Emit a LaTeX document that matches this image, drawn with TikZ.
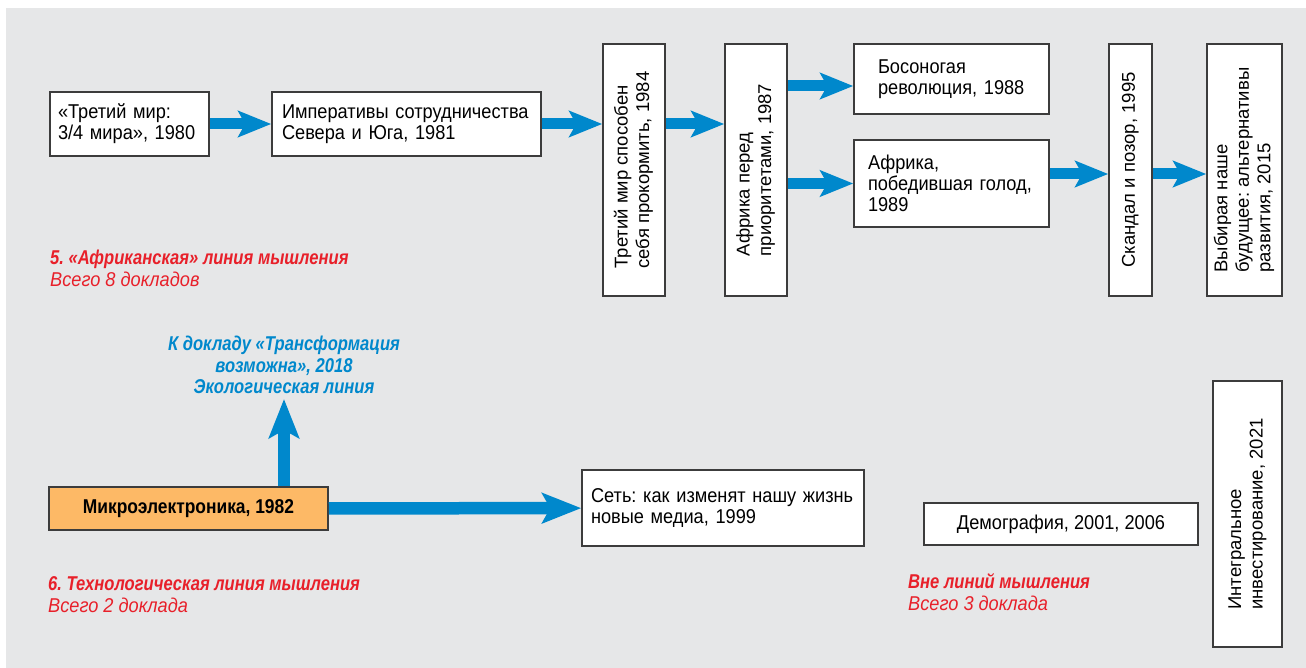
\documentclass[tikz,border=0pt]{standalone}
\usepackage{fontspec}
\usepackage{graphicx}
\setmainfont{Liberation Sans}[FakeStretch=0.91]
\newfontfamily\headfont{Liberation Sans}[FakeStretch=0.83]
\newfontfamily\mfont{Liberation Sans}[FakeStretch=0.87]
\newfontfamily\vertfont{Liberation Sans}
\usetikzlibrary{arrows.meta}
\frenchspacing

\definecolor{bggray}{HTML}{E6E7E8}
\definecolor{arrblue}{HTML}{0088CC}
\definecolor{txtred}{HTML}{E8202A}
\definecolor{boxorange}{HTML}{FDB966}
\definecolor{boxline}{HTML}{3C3C3C}

\newcommand{\boxfont}{\fontsize{20pt}{21pt}\selectfont\frenchspacing}
\newcommand{\vtext}[1]{\rotatebox{90}{\vertfont\fontsize{18.5pt}{21.5pt}\selectfont\begin{tabular}{@{}l@{}}#1\end{tabular}}}

\begin{document}
\begin{tikzpicture}[x=1pt,y=-1pt]
  \tikzstyle{box}=[draw=boxline,line width=1.5pt,fill=white,inner sep=0pt,font=\boxfont,align=left]
  \tikzstyle{vbox}=[box,minimum height=252pt]
  \tikzstyle{fat}=[draw=arrblue,line width=11pt,-{Stealth[length=33pt,width=26pt,inset=7pt]}]
  \tikzstyle{fatter}=[draw=arrblue,line width=12.5pt,-{Stealth[length=39pt,width=30pt,inset=8pt]}]
  \tikzstyle{linehead}=[anchor=base west,inner sep=0pt,text=txtred,font=\boxfont\headfont\bfseries\itshape]
  \tikzstyle{linesub}=[anchor=base west,inner sep=0pt,text=txtred,font=\boxfont\itshape]
  \tikzstyle{ecotext}=[anchor=base,inner sep=0pt,text=arrblue,font=\boxfont\headfont\bfseries\itshape]

  \useasboundingbox (0,0) rectangle (1306,668);
  \fill[bggray] (6,8) rectangle (1306,668);

  % African line
  \node[box,text width=143pt,inner xsep=8pt,minimum height=64pt] (A) at (129.5,124) {«Третий мир:\\3/4~мира», 1980};
  \node[box,text width=249pt,inner xsep=10pt,minimum height=64pt] (B) at (406.5,124) {Императивы~сотрудничества\\Севера и Юга, 1981};
  \node[vbox,minimum width=62pt] (C) at (634,170) {\vtext{Третий мир способен\\себя прокормить, 1984}};
  \node[vbox,minimum width=62pt] (D) at (756,170) {\vtext{Африка перед\\приоритетами, 1987}};
  \node[box,text width=147pt,inner xsep=24pt,minimum height=70pt] (E) at (951.5,79) {Босоногая\\революция,~1988};
  \node[box,text width=167pt,inner xsep=14pt,minimum height=87pt] (F) at (951.5,183.5) {Африка,\\победившая~голод,\\1989};
  \node[vbox,minimum width=43pt] (G) at (1130.5,170) {\vtext{Скандал и позор, 1995}};
  \node[vbox,minimum width=75pt] (H) at (1244.5,170) {\vtext{Выбирая наше\\будущее: альтернативы\\развития, 2015}};

  \coordinate (de) at (0,86);
  \coordinate (fg) at (0,174);
  \draw[fat] (A) -- (B);
  \draw[fat] (B.east) -- (B.east -| C.west);
  \draw[fat] (C.east |- B.east) -- (D.west |- B.east);
  \draw[fat] (D.east |- de) -- (E.west |- de);
  \draw[fat] (D.east |- F.west) -- (F.west);
  \draw[fat] (F.east |- fg) -- (G.west |- fg);
  \draw[fat] (G.east |- fg) -- (H.west |- fg);

  % technology line and the rest
  \node[box,fill=boxorange,font=\boxfont\mfont\bfseries,minimum width=279pt,minimum height=43pt] (M) at (188.5,508.5) {Микроэлектроника, 1982};
  \node[box,text width=264pt,inner xsep=9pt,minimum height=76pt] (N) at (723,508) {Сеть:~как~изменят~нашу~жизнь\\новые медиа, 1999};
  \node[box,minimum width=274pt,minimum height=42pt] (Dem) at (1061,524) {Демография, 2001, 2006};
  \node[vbox,minimum width=69pt,minimum height=266pt] (I) at (1247.5,514) {\vtext{Интегральное\\инвестирование, 2021}};

  \foreach \n/\y/\t in {1/350/{К докладу «Трансформация}, 2/372/{возможна», 2018}, 3/393/{Экологическая линия}}
    \node[ecotext] (eco-\n) at (284,\y) {\t};
  \coordinate (ecotip) at (284,399);
  \draw[fatter] (M) -- (N);
  \draw[fatter] (M.north -| ecotip) -- (ecotip);

  \foreach \n/\x/\y/\head/\sub in {afr/50/265/{5. «Африканская» линия мышления}/{Всего 8 докладов},
      tech/48/590/{6. Технологическая линия мышления}/{Всего 2 доклада},
      free/908/588/{Вне линий мышления}/{Всего 3 доклада}}{
    \node[linehead] (\n-head) at (\x,\y) {\head};
    \node[linesub] (\n-sub) at (\x,\y+22) {\sub};
  }
\end{tikzpicture}
\end{document}
